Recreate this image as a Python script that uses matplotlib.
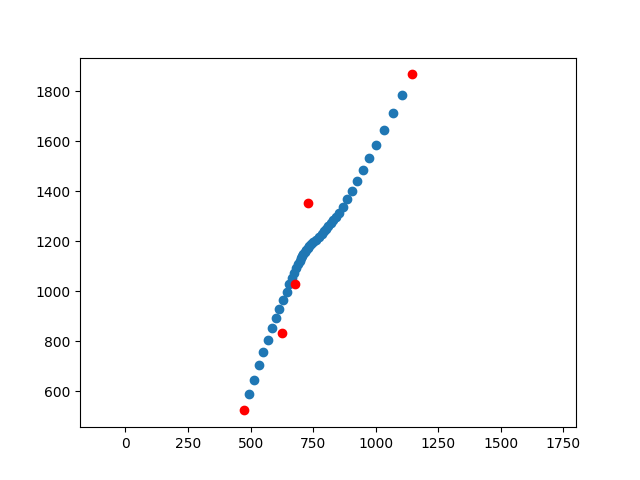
import matplotlib
matplotlib.use("Agg")
import matplotlib.pyplot as plt

# curve points (blue)
curve_x = [494, 513, 534, 550, 570, 586, 602, 614, 630, 644, 652,
           664, 674, 682, 690, 696, 701, 706, 710, 716, 722, 728, 735,
           742, 751, 762, 774, 787, 795, 803, 811, 820, 830, 841, 854,
           870, 886, 906, 926, 950, 973, 1002, 1034, 1070, 1106]
curve_y = [588, 647, 707, 759, 807, 852, 895, 931, 967, 999, 1028,
           1053, 1075, 1093, 1108, 1121, 1132, 1141, 1150, 1157, 1165, 1172, 1180,
           1188, 1197, 1206, 1216, 1229, 1240, 1251, 1262, 1274, 1285, 1298, 1312,
           1336, 1367, 1399, 1439, 1484, 1531, 1583, 1643, 1711, 1784]

# control points (red)
ctrl_x = [473, 626, 678, 730, 1146]
ctrl_y = [524, 835, 1031, 1351, 1867]

fig, ax = plt.subplots()

ax.scatter(curve_x, curve_y)
ax.scatter(ctrl_x, ctrl_y, color='red')
ax.axis('equal')

plt.savefig("out.png")
